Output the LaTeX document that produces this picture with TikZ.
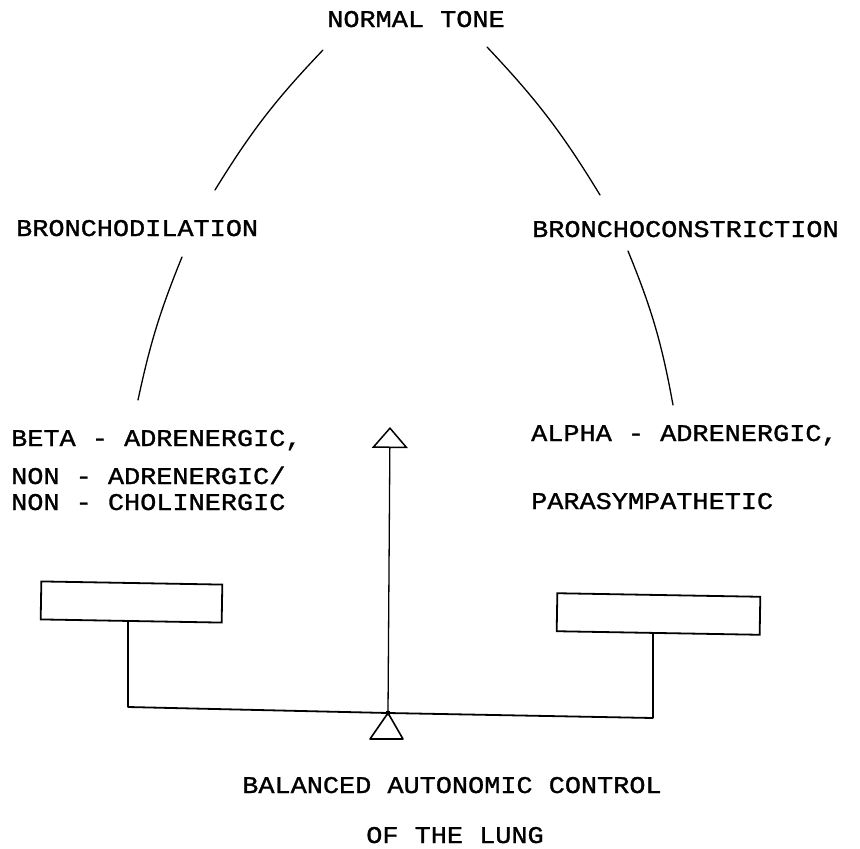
\documentclass[tikz,border=0pt]{standalone}
\usepackage{fontspec}
\newfontfamily\tw[FakeBold=1.2, FakeStretch=1.12]{Liberation Mono}
\usetikzlibrary{arrows.meta,calc}
\begin{document}
\begin{tikzpicture}[x=1pt,y=-1pt,
  lbl/.style={font=\tw\fontsize{24}{28}\selectfont, inner sep=0pt, text height=15pt, text depth=2pt},
  conn/.style={line width=1.3pt, line cap=round},
  boxst/.style={draw, line width=1.8pt, inner sep=0pt, rotate=-1},
  beam/.style={line width=1.8pt, line join=round},
]
\useasboundingbox (0,0) rectangle (860,849);

% labels
\node[lbl, anchor=base] (nt) at (416,27) {NORMAL TONE};
\node[lbl, anchor=base west] (bd) at (16,236) {BRONCHODILATION};
\node[lbl, anchor=base west] (bc) at (532,237) {BRONCHOCONSTRICTION};
\node[lbl, anchor=base west] (beta) at (11,446) {BETA - ADRENERGIC,};
\node[lbl, anchor=base west] (nonA) at (11,484) {NON - ADRENERGIC/};
\node[lbl, anchor=base west] (nonC) at (11,510) {NON - CHOLINERGIC};
\node[lbl, anchor=base west] (alpha) at (531,441) {ALPHA - ADRENERGIC,};
\node[lbl, anchor=base west] (para) at (531,509) {PARASYMPATHETIC};
\node[lbl, anchor=base] (bal) at (452,793) {BALANCED AUTONOMIC CONTROL};
\node[lbl, anchor=base] (lung) at (455,843) {OF THE LUNG};

% arch connector end points
\coordinate (ntL) at (323,50);
\coordinate (ntR) at (487,47);
\coordinate (bdT) at (215,190);
\coordinate (bcT) at (600,195);
\coordinate (bdB) at (182,257);
\coordinate (bcB) at (628,251);
\coordinate (betaT) at (138,400);
\coordinate (alphaT) at (673,405);

\draw[conn] (ntL) to[bend right=6] (bdT);
\draw[conn] (ntR) to[bend left=6] (bcT);
\draw[conn] (bdB) to[bend right=5] (betaT);
\draw[conn] (bcB) to[bend left=6] (alphaT);

% balance
\node[boxst, minimum width=181pt, minimum height=38pt] (lbox) at (131.5,602) {};
\node[boxst, minimum width=203pt, minimum height=38pt] (rbox) at (658.5,614) {};
\coordinate (barL) at (128,707);
\coordinate (barR) at (653,718);
\coordinate (pivot) at (388,713);
\coordinate (tip) at (390,427);

\draw[conn] (lbox.south -| barL) -- (barL);
\draw[conn] (rbox.south -| barR) -- (barR);
\draw[beam] (barL) -- (pivot) -- (barR);
\draw[conn, -{Triangle[open, length=21pt, width=36pt, line width=1.5pt]}] (pivot) -- (tip);
\draw[line width=1.6pt, line join=round] (pivot) -- (370,739) -- (403,739) -- cycle;
\fill (pivot) circle (2.5pt);
\end{tikzpicture}
\end{document}
